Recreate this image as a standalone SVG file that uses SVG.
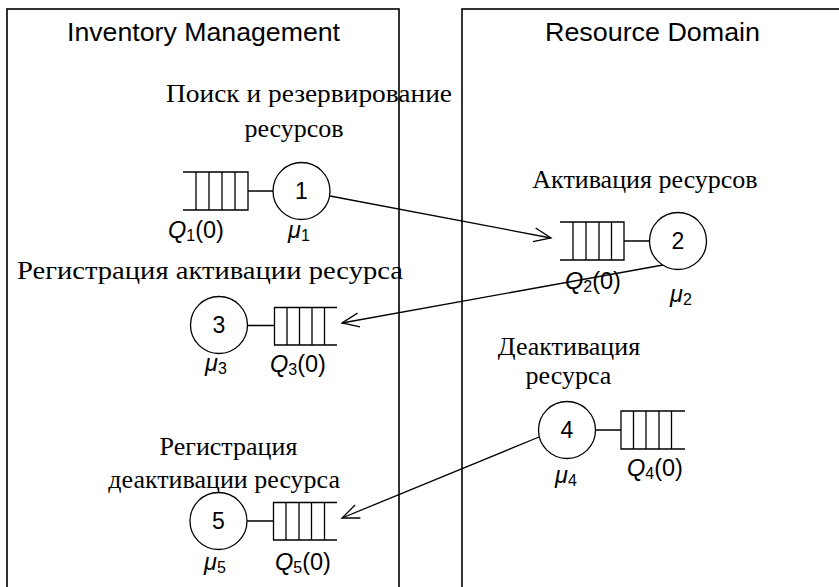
<svg xmlns="http://www.w3.org/2000/svg" width="839" height="587" viewBox="0 0 839 587">
<defs>
<style>
.box{fill:none;stroke:#000;stroke-width:1.6}
.ln{fill:none;stroke:#000;stroke-width:1.3}
.circ{fill:#fff;stroke:#000;stroke-width:1.3}
.hdr{font-family:"Liberation Sans",Arial,sans-serif;font-size:25px;fill:#000}
.ser{font-family:"Liberation Serif","Times New Roman",serif;font-size:26px;fill:#000}
.num{font-family:"Liberation Sans",Arial,sans-serif;font-size:23px;fill:#000;text-anchor:middle}
.lbl{font-family:"Liberation Sans",Arial,sans-serif;font-size:23.5px;fill:#000}
.it{font-style:italic}
.sub{font-size:16px}
</style>
<marker id="arr" markerUnits="userSpaceOnUse" markerWidth="24" markerHeight="20" viewBox="-20 -10 24 20" refX="0" refY="0" orient="auto">
<path d="M-17,-7 L0,0 L-17,7" fill="none" stroke="#000" stroke-width="1.3"/>
</marker>
</defs>
<rect width="839" height="587" fill="#fff"/>
<g id="inventory-management">
<rect class="box" x="7" y="9" width="392" height="600"/>
<text class="hdr" x="67" y="41" textLength="273" lengthAdjust="spacingAndGlyphs">Inventory Management</text>
</g>
<g id="resource-domain">
<rect class="box" x="462" y="9" width="400" height="600"/>
<text class="hdr" x="545" y="41" textLength="215" lengthAdjust="spacingAndGlyphs">Resource Domain</text>
</g>
<g id="connectors">
<line class="ln" x1="330" y1="196" x2="551" y2="238" marker-end="url(#arr)"/>
<line class="ln" x1="663" y1="265" x2="342" y2="323" marker-end="url(#arr)"/>
<line class="ln" x1="539" y1="437" x2="342" y2="518" marker-end="url(#arr)"/>
</g>
<g id="node1">
<text class="ser" x="166" y="102" textLength="286" lengthAdjust="spacingAndGlyphs">Поиск и резервирование</text>
<text class="ser" x="294" y="137" text-anchor="middle">ресурсов</text>
<path class="ln" d="M183,172 H248 V210 H183 M196,172 V210 M209,172 V210 M222,172 V210 M235,172 V210 M248,191 H273"/>
<circle class="circ" cx="301.5" cy="191" r="28.5"/>
<text class="num" x="301.5" y="199">1</text>
<text class="lbl" x="168" y="238"><tspan class="it">Q</tspan><tspan class="sub" dy="3">1</tspan><tspan dy="-3">(0)</tspan></text>
<text class="lbl" x="288" y="238"><tspan class="it">μ</tspan><tspan class="sub" dy="3">1</tspan></text>
</g>
<g id="node2">
<text class="ser" x="645" y="188" text-anchor="middle">Активация ресурсов</text>
<path class="ln" d="M560,222 H624 V260 H560 M573,222 V260 M586,222 V260 M599,222 V260 M611.5,222 V260 M624,241 H649.5"/>
<circle class="circ" cx="678" cy="241" r="28.5"/>
<text class="num" x="678" y="249">2</text>
<text class="lbl" x="565" y="289"><tspan class="it">Q</tspan><tspan class="sub" dy="3">2</tspan><tspan dy="-3">(0)</tspan></text>
<text class="lbl" x="670" y="302"><tspan class="it">μ</tspan><tspan class="sub" dy="3">2</tspan></text>
</g>
<g id="node3">
<text class="ser" x="17" y="279" textLength="386" lengthAdjust="spacingAndGlyphs">Регистрация активации ресурса</text>
<path class="ln" d="M337,307.5 H274.5 V345 H337 M287,307.5 V345 M299.5,307.5 V345 M312,307.5 V345 M324.5,307.5 V345 M247.5,325.5 H274.5"/>
<circle class="circ" cx="219" cy="325" r="28.5"/>
<text class="num" x="219" y="333">3</text>
<text class="lbl" x="205" y="371"><tspan class="it">μ</tspan><tspan class="sub" dy="3">3</tspan></text>
<text class="lbl" x="270" y="372"><tspan class="it">Q</tspan><tspan class="sub" dy="3">3</tspan><tspan dy="-3">(0)</tspan></text>
</g>
<g id="node4">
<text class="ser" x="569" y="355" text-anchor="middle">Деактивация</text>
<text class="ser" x="568.5" y="384" text-anchor="middle">ресурса</text>
<path class="ln" d="M685,411 H621 V449 H685 M633.5,411 V449 M646,411 V449 M659,411 V449 M671.5,411 V449 M596,430 H621"/>
<circle class="circ" cx="567" cy="430" r="28.5"/>
<text class="num" x="567" y="438">4</text>
<text class="lbl" x="555" y="483"><tspan class="it">μ</tspan><tspan class="sub" dy="3">4</tspan></text>
<text class="lbl" x="627" y="476"><tspan class="it">Q</tspan><tspan class="sub" dy="3">4</tspan><tspan dy="-3">(0)</tspan></text>
</g>
<g id="node5">
<text class="ser" x="228.5" y="455" text-anchor="middle">Регистрация</text>
<text class="ser" x="340" y="488" text-anchor="end">деактивации ресурса</text>
<path class="ln" d="M337,502.5 H273.5 V540 H337 M286,502.5 V540 M299,502.5 V540 M311.5,502.5 V540 M324.5,502.5 V540 M247,521 H273.5"/>
<circle class="circ" cx="218.5" cy="521" r="28.5"/>
<text class="num" x="218.5" y="529">5</text>
<text class="lbl" x="204" y="570"><tspan class="it">μ</tspan><tspan class="sub" dy="3">5</tspan></text>
<text class="lbl" x="275" y="570"><tspan class="it">Q</tspan><tspan class="sub" dy="3">5</tspan><tspan dy="-3">(0)</tspan></text>
</g>
</svg>
